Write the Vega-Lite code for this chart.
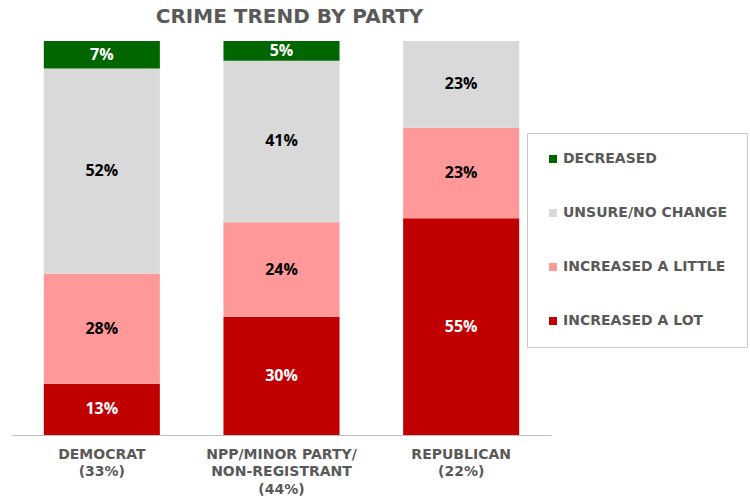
{
  "$schema": "https://vega.github.io/schema/vega-lite/v6.json",
  "width": 539,
  "height": 394,
  "autosize": {"type": "none"},
  "padding": {"left": 12, "top": 41, "right": 199, "bottom": 67},
  "background": "white",
  "title": {
    "text": "CRIME TREND BY PARTY",
    "font": "DejaVu Sans",
    "fontSize": 20,
    "fontWeight": "bold",
    "color": "#595959",
    "anchor": "middle",
    "offset": 14,
    "dx": 8
  },
  "data": {
    "values": [
      {"party": "DEMOCRAT\n(33%)", "answer": "INCREASED A LOT", "rank": 1, "pct": 13},
      {"party": "DEMOCRAT\n(33%)", "answer": "INCREASED A LITTLE", "rank": 2, "pct": 28},
      {"party": "DEMOCRAT\n(33%)", "answer": "UNSURE/NO CHANGE", "rank": 3, "pct": 52},
      {"party": "DEMOCRAT\n(33%)", "answer": "DECREASED", "rank": 4, "pct": 7},
      {"party": "NPP/MINOR PARTY/\nNON-REGISTRANT\n(44%)", "answer": "INCREASED A LOT", "rank": 1, "pct": 30},
      {"party": "NPP/MINOR PARTY/\nNON-REGISTRANT\n(44%)", "answer": "INCREASED A LITTLE", "rank": 2, "pct": 24},
      {"party": "NPP/MINOR PARTY/\nNON-REGISTRANT\n(44%)", "answer": "UNSURE/NO CHANGE", "rank": 3, "pct": 41},
      {"party": "NPP/MINOR PARTY/\nNON-REGISTRANT\n(44%)", "answer": "DECREASED", "rank": 4, "pct": 5},
      {"party": "REPUBLICAN\n(22%)", "answer": "INCREASED A LOT", "rank": 1, "pct": 55},
      {"party": "REPUBLICAN\n(22%)", "answer": "INCREASED A LITTLE", "rank": 2, "pct": 23},
      {"party": "REPUBLICAN\n(22%)", "answer": "UNSURE/NO CHANGE", "rank": 3, "pct": 23}
    ]
  },
  "transform": [
    {"stack": "pct", "groupby": ["party"], "sort": [{"field": "rank", "order": "ascending"}], "as": ["y0", "y1"]},
    {"calculate": "(datum.y0 + min(datum.y1, 100)) / 2", "as": "mid"},
    {"calculate": "datum.pct + '%'", "as": "label"}
  ],
  "encoding": {
    "x": {
      "field": "party",
      "type": "nominal",
      "sort": null,
      "scale": {"paddingInner": 0.354, "paddingOuter": 0.177},
      "axis": {
        "title": null,
        "labelAngle": 0,
        "domainColor": "#bfbfbf",
        "domainWidth": 1,
        "ticks": false,
        "labelFont": "DejaVu Sans",
        "labelFontSize": 14,
        "labelFontWeight": "bold",
        "labelColor": "#595959",
        "labelPadding": 12,
        "labelLineHeight": 17.5,
        "labelLimit": 0,
        "labelExpr": "split(datum.label, '\\n')"
      }
    }
  },
  "layer": [
    {
      "mark": {"type": "bar", "clip": true},
      "encoding": {
        "y": {"field": "y0", "type": "quantitative", "scale": {"domain": [0, 100]}, "axis": null},
        "y2": {"field": "y1"},
        "color": {
          "field": "answer",
          "type": "nominal",
          "scale": {
            "domain": ["DECREASED", "UNSURE/NO CHANGE", "INCREASED A LITTLE", "INCREASED A LOT"],
            "range": ["#006600", "#d9d9d9", "#ff9999", "#c00000"]
          },
          "legend": {
            "title": null,
            "orient": "none",
            "legendX": 515,
            "legendY": 92,
            "symbolType": "square",
            "symbolSize": 64,
            "symbolStrokeWidth": 0,
            "labelFont": "DejaVu Sans",
            "labelFontSize": 14,
            "labelFontWeight": "bold",
            "labelColor": "#595959",
            "labelOffset": 3,
            "labelLimit": 0,
            "rowPadding": 40,
            "padding": 19,
            "strokeColor": "#c8c8c8",
            "fillColor": "white"
          }
        }
      }
    },
    {
      "mark": {"type": "text", "font": "Open Sans", "fontSize": 16, "fontWeight": "bold", "baseline": "middle"},
      "encoding": {
        "y": {"field": "mid", "type": "quantitative"},
        "text": {"field": "label"},
        "color": {
          "condition": {"test": "datum.answer === 'DECREASED' || datum.answer === 'INCREASED A LOT'", "value": "white"},
          "value": "black"
        }
      }
    }
  ],
  "config": {"view": {"stroke": null}}
}
